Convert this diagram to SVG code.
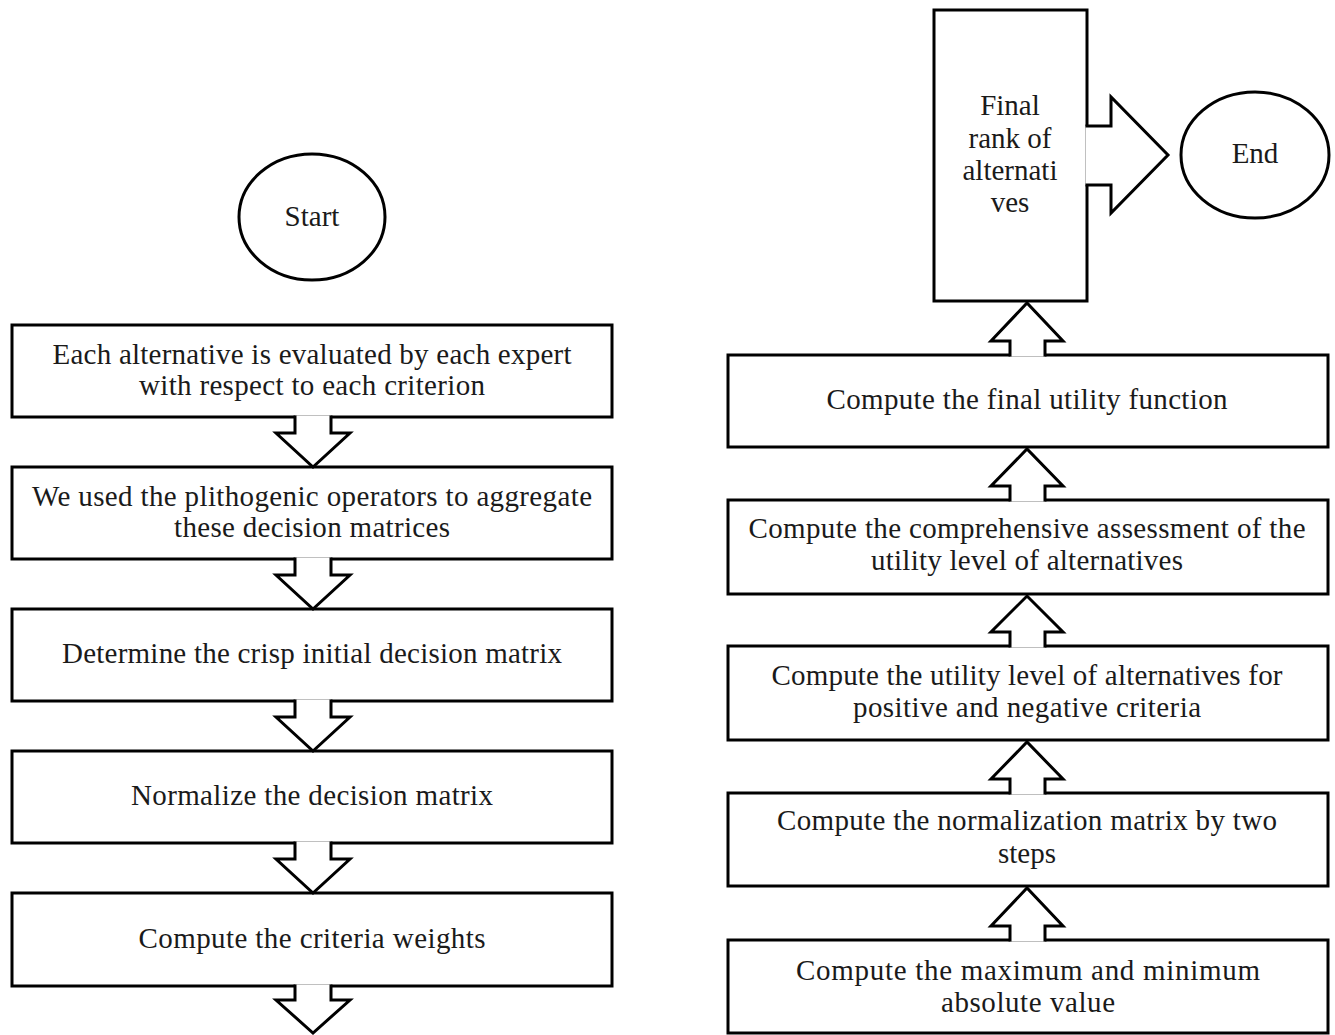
<svg xmlns="http://www.w3.org/2000/svg" width="1335" height="1035" viewBox="0 0 1335 1035">
<style>
.box{fill:#fff;stroke:#000;stroke-width:3}
.arr{fill:#fff;stroke:#000;stroke-width:3;stroke-linejoin:miter}
text{font-family:"Liberation Serif","DejaVu Serif",serif;font-size:29px;fill:#1a1a1a;text-anchor:middle}
</style>
<rect width="1335" height="1035" fill="#fff"/>
<g id="start"><ellipse class="box" cx="312" cy="217" rx="73" ry="63"/><text x="312" y="226">Start</text></g>
<g id="n1"><rect class="box" x="12" y="325" width="600" height="92"/><text x="312" y="364" textLength="519">Each alternative is evaluated by each expert</text><text x="312" y="395" textLength="346">with respect to each criterion</text></g>
<g id="n2"><rect class="box" x="12" y="467" width="600" height="92"/><text x="312" y="506" textLength="560">We used the plithogenic operators to aggregate</text><text x="312" y="537" textLength="276">these decision matrices</text></g>
<g id="n3"><rect class="box" x="12" y="609" width="600" height="92"/><text x="312" y="663" textLength="500">Determine the crisp initial decision matrix</text></g>
<g id="n4"><rect class="box" x="12" y="751" width="600" height="92"/><text x="312" y="805" textLength="362">Normalize the decision matrix</text></g>
<g id="n5"><rect class="box" x="12" y="893" width="600" height="93"/><text x="312" y="948" textLength="347">Compute the criteria weights</text></g>
<g id="r6"><rect class="box" x="728" y="940" width="600" height="93"/><text x="1028" y="980" textLength="464">Compute the maximum and minimum</text><text x="1028" y="1012" textLength="174">absolute value</text></g>
<g id="r5"><rect class="box" x="728" y="793" width="600" height="93"/><text x="1027" y="830" textLength="500">Compute the normalization matrix by two</text><text x="1027" y="863">steps</text></g>
<g id="r4"><rect class="box" x="728" y="646" width="600" height="94"/><text x="1027" y="685" textLength="511">Compute the utility level of alternatives for</text><text x="1027" y="717" textLength="348">positive and negative criteria</text></g>
<g id="r3"><rect class="box" x="728" y="500" width="600" height="94"/><text x="1027" y="538" textLength="557">Compute the comprehensive assessment of the</text><text x="1027" y="570" textLength="312">utility level of alternatives</text></g>
<g id="r2"><rect class="box" x="728" y="355" width="600" height="92"/><text x="1027" y="409" textLength="401">Compute the final utility function</text></g>
<g id="r1"><rect class="box" x="934" y="10" width="153" height="291"/><text x="1010" y="115">Final</text><text x="1010" y="148">rank of</text><text x="1010" y="180">alternati</text><text x="1010" y="212">ves</text></g>
<g id="end"><ellipse class="box" cx="1255" cy="155" rx="74" ry="63"/><text x="1255" y="163">End</text></g>
<g id="connectors">
<path class="arr" d="M295,415.5 V433 H276 L313,467 L350,433 H331 V415.5"/>
<path class="arr" d="M295,557.5 V575 H276 L313,609 L350,575 H331 V557.5"/>
<path class="arr" d="M295,699.5 V717 H276 L313,751 L350,717 H331 V699.5"/>
<path class="arr" d="M295,841.5 V859 H276 L313,893 L350,859 H331 V841.5"/>
<path class="arr" d="M295,984.5 V1000 H276 L313,1033 L350,1000 H331 V984.5"/>
<path class="arr" d="M1010,941.5 V926 H991 L1027,888 L1063,926 H1045 V941.5"/>
<path class="arr" d="M1010,794.5 V779 H991 L1027,742 L1063,779 H1045 V794.5"/>
<path class="arr" d="M1010,647.5 V632 H991 L1027,596 L1063,632 H1045 V647.5"/>
<path class="arr" d="M1010,501.5 V486 H991 L1027,449 L1063,486 H1045 V501.5"/>
<path class="arr" d="M1010,356.5 V341 H991 L1027,303 L1063,341 H1045 V356.5"/>
<path class="arr" d="M1085.5,126 H1111 V97 L1168,155 L1111,213 V185 H1085.5"/>
</g>
</svg>
